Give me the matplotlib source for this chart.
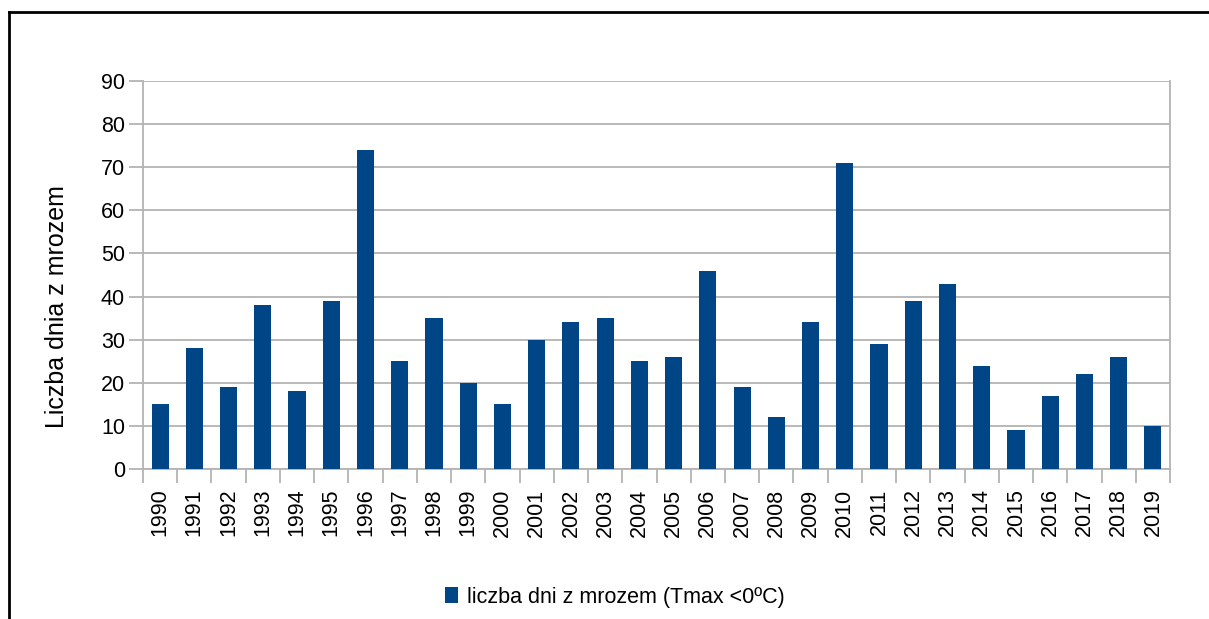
#!/usr/bin/env python3
"""Liczba dni z mrozem, 1990-2019 -- bar chart."""

import numpy as np
import matplotlib
matplotlib.use("Agg")
import matplotlib.pyplot as plt
from matplotlib.lines import Line2D

# ── data ──────────────────────────────────────────────────────────────────────
years = list(range(1990, 2020))
frost_days = [15, 28, 19, 38, 18, 39, 74, 25, 35, 20,
              15, 30, 34, 35, 25, 26, 46, 19, 12, 34,
              71, 29, 39, 43, 24, 9, 17, 22, 26, 10]
series_label = "liczba dni z mrozem (Tmax <0ºC)"
y_label = "Liczba dnia z mrozem"

BAR_COLOR = "#004586"
GRID = "#b3b3b3"

plt.rcParams["font.family"] = ["Liberation Sans", "DejaVu Sans"]

W, H = 1209, 619
fig = plt.figure(figsize=(W / 100, H / 100), dpi=100)
ax = fig.add_axes([143 / W, 1 - 469 / H, (1170 - 143) / W, (469 - 81) / H])

x = np.arange(len(years))
ax.bar(x, frost_days, width=0.5, color=BAR_COLOR, zorder=3, label=series_label)

ax.set_xlim(-0.5, len(years) - 0.5)
ax.set_ylim(0, 90)
ax.set_yticks(range(0, 91, 10))
ax.tick_params(axis="y", labelsize=15.5, length=10, width=1.3, color=GRID, pad=3)

ax.set_xticks(x)
ax.set_xticklabels([str(y) for y in years], rotation=90, fontsize=15.5)
ax.tick_params(axis="x", which="major", length=0, pad=14)
ax.set_xticks(np.arange(-0.5, len(years)), minor=True)
ax.tick_params(axis="x", which="minor", length=10, width=1.3, color=GRID)

ax.grid(axis="y", color=GRID, linewidth=1.3, zorder=0)
for s in ax.spines.values():
    s.set_color(GRID)
    s.set_linewidth(1.3)
ax.spines["top"].set_visible(False)

ax.set_ylabel(y_label, fontsize=18)
ax.yaxis.label.set_verticalalignment("center")
ax.yaxis.set_label_coords((57 - 143) / (1170 - 143), (469 - 307) / (469 - 81))

# legend below the plot, slightly left of the axes centre
ax.legend(loc="center", bbox_to_anchor=((615 - 143) / (1170 - 143), (597 - 469) / -388),
          frameon=False, fontsize=15.5, handlelength=0.6, handleheight=0.7,
          handletextpad=0.4, bbox_transform=ax.transAxes)

# outer frame (top + left only, as cropped)
fig.add_artist(Line2D([9 / W, 1], [1 - 12 / H] * 2, color="black",
                      linewidth=2, transform=fig.transFigure))
fig.add_artist(Line2D([9 / W] * 2, [0, 1 - 12 / H], color="black",
                      linewidth=2, transform=fig.transFigure))

fig.savefig("out.png", dpi=100)
